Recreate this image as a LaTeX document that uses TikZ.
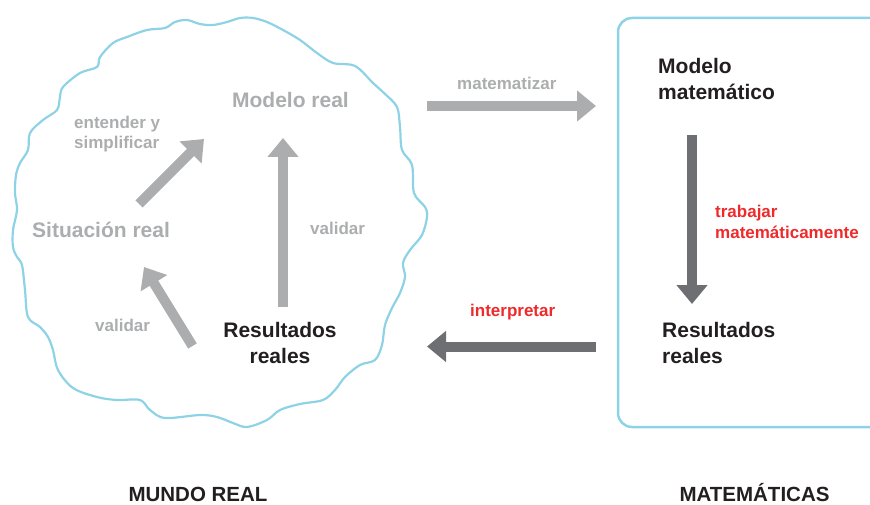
\documentclass[tikz,border=0pt]{standalone}
\usepackage{fontspec}
\setmainfont{Liberation Sans}
\usetikzlibrary{arrows.meta}
\definecolor{cloudblue}{HTML}{8DD3E5}
\definecolor{softgray}{HTML}{ABADAE}
\definecolor{arrowdark}{HTML}{6D6F72}
\definecolor{inkdark}{HTML}{231F20}
\definecolor{redlabel}{HTML}{EE2A2B}

\begin{document}
\begin{tikzpicture}[x=1pt,y=-1pt,
  big/.style={inner sep=0pt, font=\fontsize{21}{26}\selectfont\bfseries},
  small/.style={inner sep=0pt, font=\fontsize{17}{20.5}\selectfont\bfseries},
  lightarrow/.style={line width=10pt, softgray, -{Triangle[width=30pt,length=19pt]}},
  darkarrow/.style={line width=10pt, arrowdark, -{Triangle[width=30pt,length=19pt]}}]
\useasboundingbox (0,0) rectangle (870,505);

% mundo real
\draw [cloudblue, line width=2.2pt] plot [smooth cycle, tension=0.55] coordinates {
  (28,150) (20,163) (16,175) (15,193) (17,210) (13,230) (13,247) (17,257) (22,265)
  (25,290) (28,317) (40,327) (48,337) (53,350) (58,370) (73,388) (97,397) (117,400)
  (140,400) (150,410) (165,418) (200,415) (217,417) (233,423) (247,427) (267,420)
  (280,410) (300,404) (323,400) (335,390) (345,377) (360,365) (375,360) (382,345)
  (385,325) (392,308) (400,293) (405,277) (403,263) (410,250) (422,235) (427,217)
  (425,207) (414,193) (412,165) (402,150) (400,127) (397,107) (385,94) (373,83)
  (355,66) (333,63) (317,53) (300,40) (283,30) (267,22) (253,18) (240,18) (227,22)
  (213,25) (200,24) (187,20) (175,22) (165,28) (147,30) (127,37) (113,43) (100,57)
  (97,67) (80,73) (63,87) (60,97) (57,110) (43,120) (30,133)};

% matematicas
\draw [cloudblue, line width=2.5pt, rounded corners=14pt]
  (870,18) -- (618,18) -- (618,427) -- (870,427);

% base anchor = last line
\node [big, softgray, anchor=base] (modreal) at (290.5,108) {Modelo real};
\node [big, softgray, anchor=base west] (sitreal) at (32,237) {Situación real};
\node [big, inkdark, anchor=base, align=center] (resreal) at (280,363) {Resultados\\reales};
\node [big, inkdark, anchor=base west, align=left] (modmat) at (658,100) {Modelo\\matemático};
\node [big, inkdark, anchor=base west, align=left] (resmat) at (662,363) {Resultados\\reales};

\node [small, softgray, anchor=base west, align=left] (entender) at (74,149) {entender y\\simplificar};
\node [small, softgray, anchor=base west] (validar1) at (310,234) {validar};
\node [small, softgray, anchor=base west] (validar2) at (95,331) {validar};
\node [small, softgray, anchor=base west] (matem) at (457,90) {matematizar};
\node [small, redlabel, anchor=base west, align=left] (trabajar) at (715,238) {trabajar\\matemáticamente};
\node [small, redlabel, anchor=base west] (interp) at (470,316) {interpretar};

\node [inner sep=0pt, inkdark, font=\fontsize{20.5}{24}\selectfont\bfseries, anchor=base] (mundo) at (198,501) {MUNDO REAL};
\node [inner sep=0pt, inkdark, font=\fontsize{20.5}{24}\selectfont\bfseries, anchor=base] (mates) at (754.5,501) {MATEMÁTICAS};

% arrow ends
\coordinate (a1) at (139,204); \coordinate (a2) at (204,139);
\coordinate (b1) at (192.5,346); \coordinate (b2) at (144,267);
\coordinate (c1) at (283,307); \coordinate (c2) at (283,138);
\coordinate (d1) at (427,106); \coordinate (d2) at (596,106);
\coordinate (e1) at (692,135); \coordinate (e2) at (692,304);
\coordinate (f1) at (596,346.5); \coordinate (f2) at (427,346.5);

\draw [lightarrow] (a1) -- (a2);
\draw [lightarrow] (b1) -- (b2);
\draw [lightarrow] (c1) -- (c2);
\draw [lightarrow] (d1) -- (d2);
\draw [darkarrow] (e1) -- (e2);
\draw [darkarrow] (f1) -- (f2);
\end{tikzpicture}
\end{document}
